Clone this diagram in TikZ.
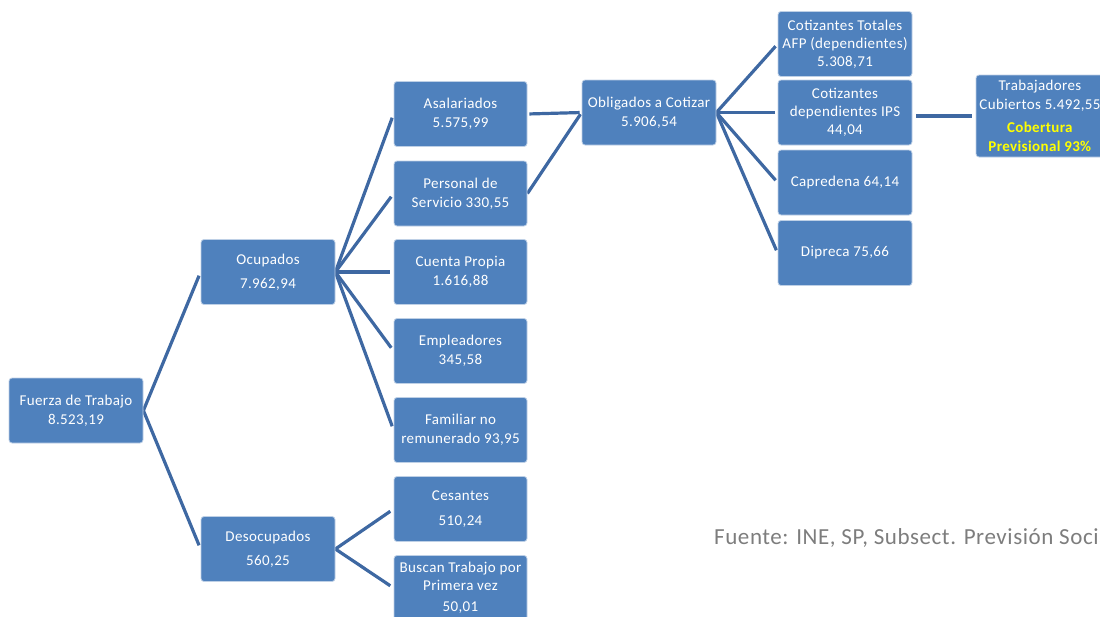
\documentclass[tikz,border=0pt]{standalone}
\usepackage{fontspec}
\setmainfont[LetterSpace=2.5]{Carlito}
\usetikzlibrary{backgrounds}
\definecolor{boxblue}{RGB}{79,129,189}
\definecolor{boxedge}{RGB}{190,208,230}
\definecolor{linkblue}{RGB}{62,104,162}
\definecolor{footgray}{RGB}{125,125,125}
\definecolor{covyellow}{RGB}{255,255,0}
\begin{document}
\begin{tikzpicture}[x=1pt,y=-1pt,
  box/.style={rectangle, rounded corners=3pt, fill=boxblue, draw=boxedge, line width=0.8pt,
    text=white, align=center, minimum width=134pt, minimum height=65pt, inner sep=1pt,
    font=\fontsize{15}{19}\selectfont},
  conn/.style={draw=linkblue, line width=3.2pt, shorten >=4pt}]
\useasboundingbox (0,0) rectangle (1100,616);
\clip (0,0) rectangle (1100,616);
% column 1-2
\node[box] (fuerza) at (76,410.5) {Fuerza de Trabajo\\8.523,19};
\node[box] (ocup) at (268,272) {Ocupados\\[5pt]7.962,94};
\node[box] (desoc) at (268,549) {Desocupados\\[5pt]560,25};
% column 3
\node[box, minimum width=133pt] (asal) at (460.5,114) {Asalariados\\5.575,99};
\node[box, minimum width=133pt] (pers) at (460.5,193.5) {Personal de\\Servicio 330,55};
\node[box, minimum width=133pt] (cuenta) at (460.5,272) {Cuenta Propia\\1.616,88};
\node[box, minimum width=133pt] (empl) at (460.5,351) {Empleadores\\345,58};
\node[box, minimum width=133pt] (fam) at (460.5,430) {Familiar no\\remunerado 93,95};
\node[box, minimum width=133pt] (ces) at (460.5,509) {Cesantes\\[6pt]510,24};
\node[box, minimum width=133pt, font=\fontsize{15}{18}\selectfont] (busc) at (460.5,588) {Buscan Trabajo por\\Primera vez\\[3pt]50,01};
% column 4
\node[box] (oblig) at (649,112.5) {Obligados a Cotizar\\5.906,54};
% column 5
\node[box, font=\fontsize{15}{18}\selectfont] (cott) at (845,44) {Cotizantes Totales\\AFP (dependientes)\\5.308,71};
\node[box, font=\fontsize{15}{18}\selectfont] (ips) at (845,112.5) {Cotizantes\\dependientes IPS\\44,04};
\node[box] (capr) at (845,182.5) {Capredena 64,14};
\node[box] (dipr) at (845,253) {Dipreca 75,66};
% column 6
\node[box, minimum width=128pt, minimum height=82pt, font=\fontsize{15}{18.5}\selectfont] (trab) at (1040,116)
  {Trabajadores\\Cubiertos 5.492,55\\[5pt]\textcolor{covyellow}{\textbf{Cobertura}}\\\textcolor{covyellow}{\textbf{Previsional 93\%}}};
% source
\node[anchor=base west, inner sep=0pt, text=footgray, font=\fontsize{23}{26}\selectfont] (fuente) at (714,544)
  {Fuente: INE, SP, Subsect. Previsión Social};
% connectors
\begin{scope}[on background layer]
\draw[conn] (fuerza.east) -- (ocup.west);
\draw[conn] (fuerza.east) -- (desoc.west);
\foreach \c in {asal,pers,cuenta,empl,fam} \draw[conn] (ocup.east) -- (\c.west);
\foreach \c in {ces,busc} \draw[conn] (desoc.east) -- (\c.west);
\draw[conn, shorten <=2pt, shorten >=2pt] (asal.east) -- (oblig.west);
\draw[conn, shorten >=2pt] (pers.east) -- (oblig.west);
\foreach \c in {cott,ips,capr,dipr} \draw[conn, shorten >=3pt] (oblig.east) -- (\c.west);
\draw[conn, shorten <=4pt] (ips.east |- trab.west) -- (trab.west);
\end{scope}
\end{tikzpicture}
\end{document}
